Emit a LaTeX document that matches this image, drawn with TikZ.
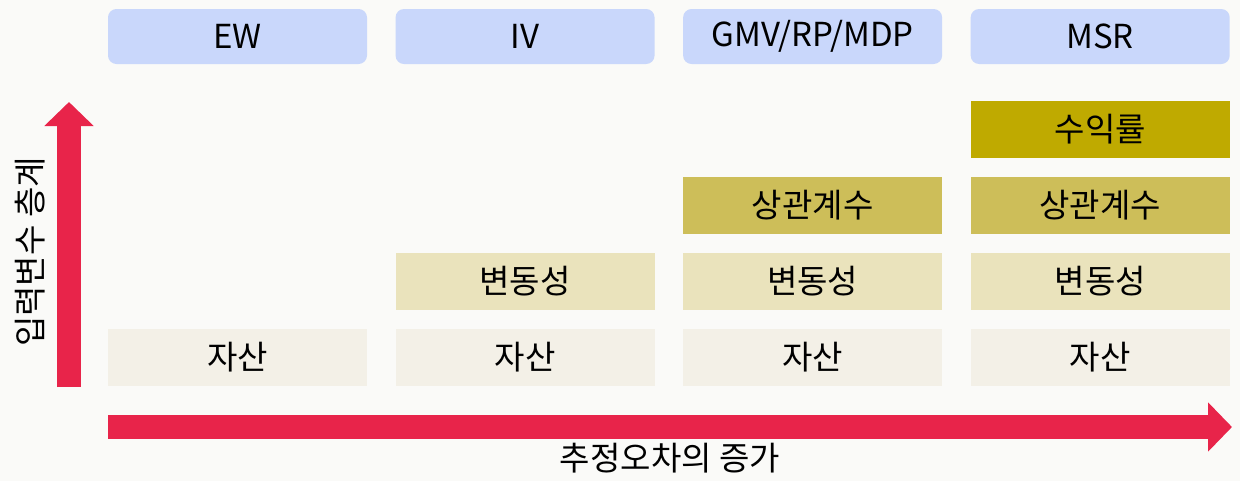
\documentclass[tikz,border=0pt]{standalone}
\usepackage{fontspec}
\setmainfont{Noto Sans CJK KR}
\usepackage{xcolor}
\usetikzlibrary{arrows.meta, positioning}

\definecolor{bgpaper}{HTML}{FAFAF8}
\definecolor{headblue}{HTML}{C9D7FB}
\definecolor{assetfill}{HTML}{F3F0E7}
\definecolor{volfill}{HTML}{EAE3BC}
\definecolor{corrfill}{HTML}{CDBE59}
\definecolor{retfill}{HTML}{BFAA00}
\definecolor{axisred}{HTML}{E8244A}

\begin{document}
\begin{tikzpicture}[node distance=0.46cm and 0.7cm,
    header/.style={rectangle, rounded corners=6pt, minimum width=6.475cm, minimum height=1.375cm, text centered, fill=headblue, font=\fontsize{23.5}{28}\selectfont},
    layer/.style={rectangle, minimum width=6.475cm, minimum height=1.425cm, text centered, font=\fontsize{23.5}{28}\selectfont},
    axis/.style={line width=0.6cm, draw=axisred, -{Triangle[width=1.2cm,length=0.6cm]}}]

\fill [bgpaper] (0,0) rectangle (31,-12.025);
\useasboundingbox (0,0) rectangle (31,-12.025);

% headers
\node (hEW) [header] at (5.9375,-0.9125) {EW};
\node (hIV) [header, right=of hEW] {IV};
\node (hGMV) [header, right=of hIV] {GMV/RP/MDP};
\node (hMSR) [header, right=of hGMV] {MSR};

% asset row
\node (aEW) [layer, fill=assetfill] at (5.9375,-8.9375) {자산};
\node (aIV) [layer, fill=assetfill, right=of aEW] {자산};
\node (aGMV) [layer, fill=assetfill, right=of aIV] {자산};
\node (aMSR) [layer, fill=assetfill, right=of aGMV] {자산};

\node (vIV) [layer, fill=volfill, above=of aIV] {변동성};
\node (vGMV) [layer, fill=volfill, above=of aGMV] {변동성};
\node (vMSR) [layer, fill=volfill, above=of aMSR] {변동성};

\node (cGMV) [layer, fill=corrfill, above=of vGMV] {상관계수};
\node (cMSR) [layer, fill=corrfill, above=of vMSR] {상관계수};

\node (rMSR) [layer, fill=retfill, above=of cMSR] {수익률};

% axes
\coordinate (ybot) at (1.725,-9.675);
\coordinate (ytop) at (1.725,-2.55);
\coordinate (xleft) at (2.7,-10.675);
\coordinate (xright) at (30.8,-10.675);

\draw [axis] (ybot) -- (ytop);
\draw [axis] (xleft) -- (xright);

\node (ylabel) [rotate=90, font=\fontsize{23.5}{28}\selectfont] at (0.75,-6.3) {입력변수 층계};
\node (xlabel) [font=\fontsize{23.5}{28}\selectfont] at (16.75,-11.45) {추정오차의 증가};

\end{tikzpicture}
\end{document}
